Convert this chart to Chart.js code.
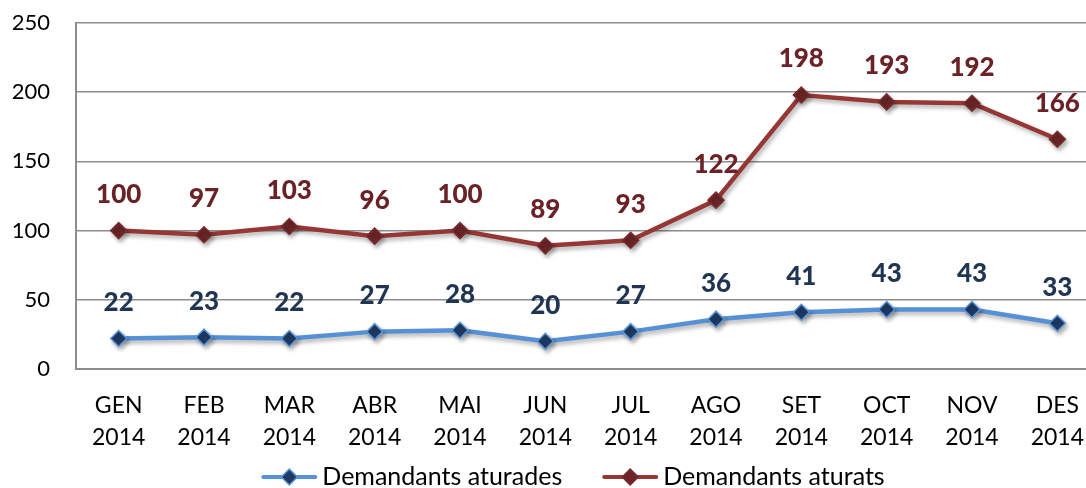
<!DOCTYPE html>
<html>
<head>
<meta charset="utf-8">
<script src="https://cdn.jsdelivr.net/npm/chart.js@4"></script>
<style>
  html, body { margin: 0; padding: 0; background: #fff; overflow: hidden; }
  #wrap { width: 1110px; height: 488px; }
</style>
</head>
<body>
<div id="wrap"><canvas id="chart"></canvas></div>
<script>
// dades del gràfic
const months = [['GEN', '2014'], ['FEB', '2014'], ['MAR', '2014'], ['ABR', '2014'], ['MAI', '2014'], ['JUN', '2014'],
                ['JUL', '2014'], ['AGO', '2014'], ['SET', '2014'], ['OCT', '2014'], ['NOV', '2014'], ['DES', '2014']];
const aturades = [22, 23, 22, 27, 28, 20, 27, 36, 41, 43, 43, 33];
const aturats = [100, 97, 103, 96, 100, 89, 93, 122, 198, 193, 192, 166];
const yTicks = [0, 50, 100, 150, 200, 250];

const FONT = 'Lato, "Open Sans", sans-serif';

function diamond(g, x, y, r, fill, border) {
    g.fillStyle = fill; g.strokeStyle = border; g.lineWidth = 1.5;
    g.beginPath(); g.moveTo(x, y - r); g.lineTo(x + r, y); g.lineTo(x, y + r); g.lineTo(x - r, y); g.closePath();
    g.fill(); g.stroke();
}

// ombra suau sota les línies
const softShadow = {
    id: 'softShadow',
    beforeDatasetDraw(chart) {
        const ctx = chart.ctx;
        ctx.save();
        ctx.shadowColor = 'rgba(0,0,0,0.3)';
        ctx.shadowBlur = 4;
        ctx.shadowOffsetX = 2;
        ctx.shadowOffsetY = 3;
    },
    afterDatasetDraw(chart) {
        chart.ctx.restore();
    }
};

// etiquetes de valor damunt dels punts
const valueLabels = {
    id: 'valueLabels',
    afterDatasetsDraw(chart) {
        const ctx = chart.ctx;
        ctx.save();
        ctx.font = '900 26px ' + FONT;
        ctx.textAlign = 'center';
        ctx.textBaseline = 'middle';
        chart.data.datasets.forEach((ds, i) => {
            chart.getDatasetMeta(i).data.forEach((pt, j) => {
                ctx.fillStyle = ds.labelColor;
                ctx.fillText(ds.data[j], pt.x, pt.y - 36);
            });
        });
        ctx.restore();
    }
};

// llegenda: línia + rombe i text
const lineLegend = {
    id: 'lineLegend',
    afterDraw(chart) {
        const ctx = chart.ctx;
        const iconW = 56, gap = 5, itemGap = 40, y = 477;
        ctx.save();
        ctx.font = '25px ' + FONT;
        ctx.textBaseline = 'middle';
        const items = chart.data.datasets.map(ds => ({ ds, w: ctx.measureText(ds.label).width }));
        const total = items.reduce((a, it) => a + iconW + gap + it.w, 0) + itemGap * (items.length - 1);
        let x = (chart.chartArea.left + chart.chartArea.right) / 2 - 15 - total / 2;
        items.forEach(it => {
            ctx.strokeStyle = it.ds.borderColor;
            ctx.lineWidth = 4;
            ctx.lineCap = 'round';
            ctx.beginPath(); ctx.moveTo(x + 2, y); ctx.lineTo(x + iconW - 2, y); ctx.stroke();
            diamond(ctx, x + iconW / 2, y, 8, it.ds.pointBackgroundColor, it.ds.pointBorderColor);
            ctx.fillStyle = '#000';
            ctx.fillText(it.ds.label, x + iconW + gap, y);
            x += iconW + gap + it.w + itemGap;
        });
        ctx.restore();
    }
};

new Chart(document.getElementById('chart'), {
    type: 'line',
    data: {
        labels: months,
        datasets: [
            {
                label: 'Demandants aturades',
                data: aturades,
                borderColor: '#5690d6',
                borderWidth: 4.5,
                pointStyle: 'rectRot',
                pointRadius: 8,
                pointBackgroundColor: '#1f3a63',
                pointBorderColor: '#5a95dc',
                pointBorderWidth: 1.5,
                labelColor: '#1f3552',
                tension: 0
            },
            {
                label: 'Demandants aturats',
                data: aturats,
                borderColor: '#953735',
                borderWidth: 4.5,
                pointStyle: 'rectRot',
                pointRadius: 8,
                pointBackgroundColor: '#6b2527',
                pointBorderColor: '#7a2b2c',
                pointBorderWidth: 1.5,
                labelColor: '#6b2226',
                tension: 0
            }
        ]
    },
    options: {
        responsive: true,
        maintainAspectRatio: false,
        animation: false,
        layout: { padding: { top: 23, right: 10, left: 0, bottom: 0 } },
        scales: {
            x: {
                offset: true,
                grid: { display: false, drawTicks: false },
                border: { color: '#8c8c8c', width: 2 },
                ticks: { color: '#000', font: { family: FONT, size: 23, lineHeight: 1.4 }, padding: 20, maxRotation: 0, autoSkip: false },
                afterFit: s => { s.height = 119; }
            },
            y: {
                min: 0, max: 250,
                afterBuildTicks: s => { s.ticks = yTicks.map(v => ({ value: v })); },
                grid: { color: '#8c8c8c', lineWidth: 1.5, drawTicks: false },
                border: { color: '#8c8c8c', width: 2 },
                ticks: { color: '#000', font: { family: FONT, size: 22 }, padding: 26 },
                afterFit: s => { s.width = 76; s.paddingTop = 0; s.paddingBottom = 0; }
            }
        },
        plugins: {
            legend: { display: false },
            tooltip: { enabled: false }
        }
    },
    plugins: [softShadow, valueLabels, lineLegend]
});
</script>
</body>
</html>
